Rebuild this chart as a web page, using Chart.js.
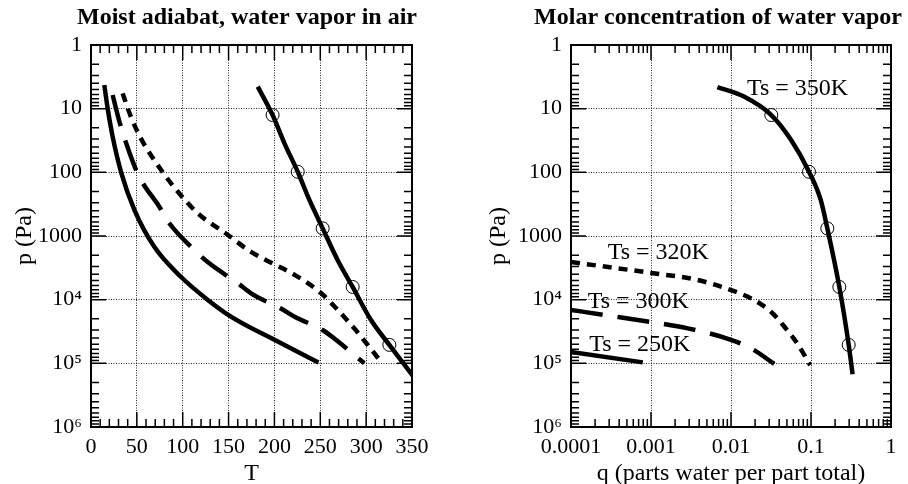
<!DOCTYPE html>
<html>
<head>
<meta charset="utf-8">
<script src="https://cdn.jsdelivr.net/npm/chart.js@4/dist/chart.umd.min.js"></script>
<style>
    html, body { margin: 0; padding: 0; background: #fff; }
    #wrap { position: relative; width: 908px; height: 484px; }
    #wrap canvas { position: absolute; top: 0; }
</style>
</head>
<body>
<div id="wrap">
    <canvas id="adiabatChart" width="454" height="484" style="left:0"></canvas>
    <canvas id="molarChart" width="454" height="484" style="left:454px"></canvas>
</div>
<script>
/* axis ticks */
const pTicks = [1, 10, 100, 1000, 10000, 100000, 1000000];
const pTickLabels = ['1', '10', '100', '1000', '10⁴', '10⁵', '10⁶'];
const tTicks = [0, 50, 100, 150, 200, 250, 300, 350];
const qTicks = [0.0001, 0.001, 0.01, 0.1, 1];
const qTickLabels = ['0.0001', '0.001', '0.01', '0.1', '1'];

/* left panel: T (K) vs p (Pa) */
const t250 = [14.5, 18.2, 23.6, 32.7, 47.3, 69, 98, 127, 153, 200, 248];
const p250 = [4.25, 10, 27.5, 98, 389, 1480, 4370, 10000, 18600, 42700, 97000];

const t300 = [23.6, 30.9, 47.3, 54.5, 74.5, 85.4, 112.7, 129, 160, 174.5, 207, 222, 253, 267, 298];
const p300 = [6.1, 15.8, 79, 132, 347, 631, 1660, 2690, 5500, 7940, 13800, 18600, 30200, 42700, 100000];

const t320 = [34.5, 43.6, 54.5, 76.3, 94.5, 116.3, 149, 174.5, 198, 222, 251, 269, 287, 305, 318];
const p320 = [5.75, 13.5, 29.5, 91, 200, 437, 955, 1780, 2690, 4070, 7940, 14500, 28200, 58900, 102000];

const t350 = [181.8, 198, 210.8, 225.4, 238, 252.6, 269, 285.3, 305.3, 325.3, 352];
const p350 = [4.5, 12.6, 34.7, 98, 269, 759, 2400, 6310, 20900, 51300, 164000];

/* open circles on the Ts = 350K curve */
const tMarks = [198, 225.4, 252.6, 285.3, 325.3];
const qMarks = [0.0319, 0.0944, 0.160, 0.226, 0.296];
const pMarks = [12.6, 98, 759, 6310, 51300];

/* right panel: q vs p (Pa) */
const q350 = [0.00676, 0.0145, 0.0319, 0.0562, 0.0944, 0.132, 0.160, 0.226, 0.296, 0.331];
const pq350 = [4.57, 6.46, 12.6, 30.9, 98, 269, 759, 6310, 51300, 148000];

const q320 = [0.0001, 0.000263, 0.001, 0.0038, 0.01, 0.0178, 0.0316, 0.0468, 0.0676, 0.0977];
const pq320 = [2570, 3020, 3800, 4900, 7080, 9550, 15500, 26900, 49000, 107000];

const q300 = [0.0001, 0.000263, 0.001, 0.00288, 0.01, 0.0178, 0.0347];
const pq300 = [14500, 17400, 22400, 28200, 42700, 58200, 102000];

const q250 = [0.0001, 0.00079];
const pq250 = [66100, 96600];

/* curve labels */
const tsLabels = ['Ts = 350K', 'Ts = 320K', 'Ts = 300K', 'Ts = 250K'];
const tsLabelQ = [0.0158, 0.000288, 0.000162, 0.000169];
const tsLabelP = [4.9, 1850, 10800, 51500];

Chart.defaults.font.family = "'Liberation Serif', 'Times New Roman', serif";
Chart.defaults.color = '#000';

const DASHED = [32, 15];
const DOTTED = [9, 7];

function curve(xs, ys, dash) {
    return {
        data: xs.map((x, i) => ({x: x, y: ys[i]})),
        showLine: true,
        borderColor: '#000',
        borderWidth: 4.5,
        borderDash: dash,
        borderCapStyle: 'butt',
        pointRadius: 0,
        cubicInterpolationMode: 'monotone',
        fill: false
    };
}

function circles(xs, ys) {
    return {
        data: xs.map((x, i) => ({x: x, y: ys[i]})),
        showLine: false,
        pointStyle: 'circle',
        pointRadius: 6.5,
        pointHoverRadius: 6.5,
        borderColor: '#000',
        borderWidth: 1,
        backgroundColor: 'rgba(0,0,0,0)'
    };
}

function linearMinor(min, max, step) {
    let out = [];
    for (let v = min; v <= max; v += step) out.push(v);
    return out;
}

function logMinor(minExp, maxExp) {
    let out = [];
    for (let e = minExp; e < maxExp; e++) {
        for (let k = 2; k <= 9; k++) out.push(k * Math.pow(10, e));
    }
    return out;
}

/* inward ticks on all four sides, frame, curve labels */
const framePlugin = {
    id: 'frame',
    afterDatasetsDraw(chart, args, opts) {
        const ctx = chart.ctx;
        const a = chart.chartArea;
        const xs = chart.scales.x;
        const ys = chart.scales.y;

        ctx.save();
        ctx.strokeStyle = '#000';
        ctx.lineWidth = 1.5;
        ctx.beginPath();
        const xTick = (v, len) => {
            const px = xs.getPixelForValue(v);
            ctx.moveTo(px, a.bottom); ctx.lineTo(px, a.bottom - len);
            ctx.moveTo(px, a.top); ctx.lineTo(px, a.top + len);
        };
        const yTick = (v, len) => {
            const py = ys.getPixelForValue(v);
            ctx.moveTo(a.left, py); ctx.lineTo(a.left + len, py);
            ctx.moveTo(a.right, py); ctx.lineTo(a.right - len, py);
        };
        opts.xMinor.forEach(v => xTick(v, 8));
        opts.xMajor.forEach(v => xTick(v, 15));
        opts.yMinor.forEach(v => yTick(v, 8));
        opts.yMajor.forEach(v => yTick(v, 15));
        ctx.stroke();

        ctx.lineWidth = 2;
        ctx.strokeRect(a.left, a.top, a.right - a.left, a.bottom - a.top);

        ctx.fillStyle = '#000';
        ctx.font = "24px 'Liberation Serif', 'Times New Roman', serif";
        ctx.textAlign = 'left';
        ctx.textBaseline = 'middle';
        (opts.labels || []).forEach(l => {
            ctx.fillText(l.text, xs.getPixelForValue(l.x), ys.getPixelForValue(l.y));
        });
        ctx.restore();
    }
};

function gridOpts() {
    return {color: '#222', lineWidth: 1, drawTicks: false};
}

function pAxis(width, titlePad) {
    return {
        type: 'logarithmic',
        reverse: true,
        min: 1,
        max: 1000000,
        afterBuildTicks: s => { s.ticks = pTicks.map(v => ({value: v})); },
        afterFit: s => { s.width = width; },
        ticks: {autoSkip: false, padding: 9, font: {size: 22}, callback: (v, i) => pTickLabels[i]},
        grid: gridOpts(),
        border: {display: false, dash: [1, 1.5]},
        title: {display: true, text: 'p (Pa)', font: {size: 24, lineHeight: 1}, padding: {top: titlePad, bottom: 0}}
    };
}

function spacer(width) {
    return {
        type: 'linear',
        position: 'right',
        display: true,
        grid: {display: false},
        ticks: {display: false},
        border: {display: false},
        afterFit: s => { s.width = width; }
    };
}

function baseOptions(title, padRight) {
    return {
        responsive: false,
        animation: false,
        events: [],
        layout: {padding: {left: 0, right: padRight, top: 0, bottom: 0}},
        plugins: {
            legend: {display: false},
            tooltip: {enabled: false},
            title: {
                display: true,
                text: title,
                align: 'end',
                font: {size: 24, weight: 'bold', lineHeight: 1.2},
                padding: {top: 3, bottom: 13.2}
            }
        }
    };
}

/* left chart: moist adiabat */
let leftOpts = baseOptions('Moist adiabat, water vapor in air', 37);
leftOpts.scales = {
    x: {
        type: 'linear',
        min: 0,
        max: 350,
        afterBuildTicks: s => { s.ticks = tTicks.map(v => ({value: v})); },
        afterFit: s => { s.height = 57; },
        ticks: {autoSkip: false, maxRotation: 0, padding: 7, font: {size: 22}, callback: (v, i) => String(tTicks[i])},
        grid: gridOpts(),
        border: {display: false, dash: [1, 1.5]},
        title: {display: true, text: 'T', font: {size: 24, lineHeight: 0.84}, padding: 0}
    },
    y: pAxis(91, 13),
    pad: spacer(5)
};
leftOpts.plugins.frame = {
    xMajor: tTicks,
    xMinor: linearMinor(0, 350, 10),
    yMajor: pTicks,
    yMinor: logMinor(0, 6),
    labels: []
};

new Chart(document.getElementById('adiabatChart'), {
    type: 'line',
    data: {
        datasets: [
            curve(t250, p250, []),
            curve(t300, p300, DASHED),
            curve(t320, p320, DOTTED),
            curve(t350, p350, []),
            circles(tMarks, pMarks)
        ]
    },
    options: leftOpts,
    plugins: [framePlugin]
});

/* right chart: molar concentration */
let rightOpts = baseOptions('Molar concentration of water vapor', 6);
rightOpts.scales = {
    x: {
        type: 'logarithmic',
        min: 0.0001,
        max: 1,
        afterBuildTicks: s => { s.ticks = qTicks.map(v => ({value: v})); },
        afterFit: s => { s.height = 57; },
        ticks: {autoSkip: false, maxRotation: 0, padding: 7, font: {size: 22}, callback: (v, i) => qTickLabels[i]},
        grid: gridOpts(),
        border: {display: false, dash: [1, 1.5]},
        title: {display: true, text: 'q (parts water per part total)', font: {size: 24, lineHeight: 0.84}, padding: 0}
    },
    y: pAxis(117, 33),
    pad: spacer(11)
};
rightOpts.plugins.frame = {
    xMajor: qTicks,
    xMinor: logMinor(-4, 0),
    yMajor: pTicks,
    yMinor: logMinor(0, 6),
    labels: tsLabels.map((t, i) => ({text: t, x: tsLabelQ[i], y: tsLabelP[i]}))
};

new Chart(document.getElementById('molarChart'), {
    type: 'line',
    data: {
        datasets: [
            curve(q250, pq250, []),
            curve(q300, pq300, DASHED),
            curve(q320, pq320, DOTTED),
            curve(q350, pq350, []),
            circles(qMarks, pMarks)
        ]
    },
    options: rightOpts,
    plugins: [framePlugin]
});
</script>
</body>
</html>
